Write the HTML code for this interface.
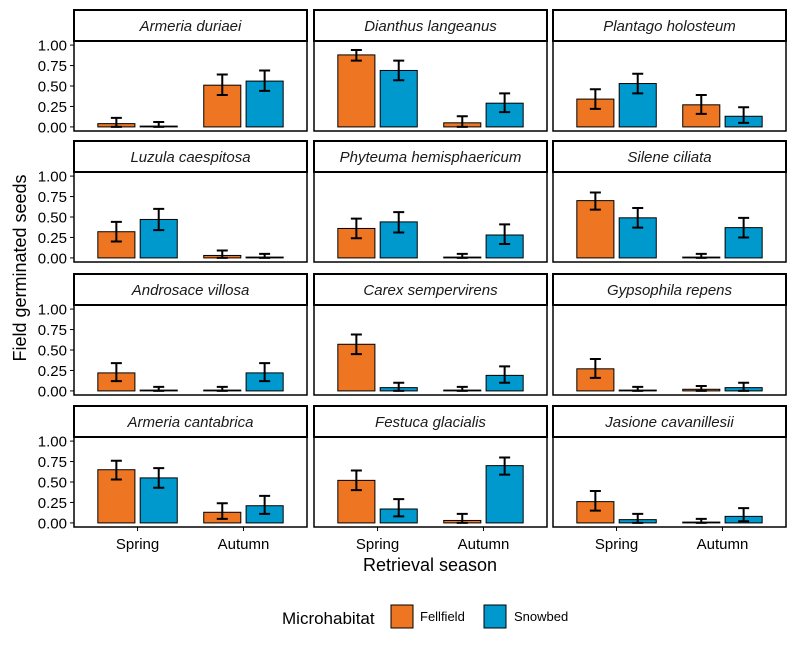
<!DOCTYPE html>
<html><head><meta charset="utf-8"><style>
body{margin:0;background:#fff}
svg{display:block;font-family:"Liberation Sans",Arial,sans-serif}
</style></head><body>
<svg id="chart" width="795" height="645" viewBox="0 0 795 645" xmlns="http://www.w3.org/2000/svg"></svg>
<script>
const species = ["Armeria duriaei","Dianthus langeanus","Plantago holosteum","Luzula caespitosa","Phyteuma hemisphaericum","Silene ciliata","Androsace villosa","Carex sempervirens","Gypsophila repens","Armeria cantabrica","Festuca glacialis","Jasione cavanillesii"];
const seasons = ["Spring","Autumn"];
const habitats = ["Fellfield","Snowbed"];
// values per species: [SpringF, SpringS, AutumnF, AutumnS]
const meanVals = [[0.04,0.01,0.51,0.56],[0.88,0.69,0.05,0.29],[0.34,0.53,0.27,0.13],[0.32,0.47,0.03,0.01],[0.36,0.44,0.01,0.28],[0.70,0.49,0.01,0.37],[0.22,0.01,0.01,0.22],[0.57,0.04,0.01,0.19],[0.27,0.01,0.02,0.04],[0.65,0.55,0.13,0.21],[0.52,0.17,0.03,0.70],[0.26,0.04,0.01,0.08]];
const lowVals = [[0,0,0.39,0.44],[0.81,0.57,0,0.18],[0.22,0.41,0.16,0.05],[0.20,0.34,0,0],[0.24,0.31,0,0.17],[0.59,0.37,0,0.25],[0.12,0,0,0.12],[0.45,0,0,0.10],[0.16,0,0,0],[0.53,0.43,0.05,0.11],[0.40,0.08,0,0.59],[0.15,0,0,0.02]];
const highVals = [[0.11,0.06,0.64,0.69],[0.94,0.81,0.13,0.41],[0.46,0.65,0.39,0.24],[0.44,0.60,0.09,0.05],[0.48,0.56,0.05,0.41],[0.80,0.61,0.05,0.49],[0.34,0.05,0.05,0.34],[0.69,0.10,0.05,0.30],[0.39,0.05,0.06,0.10],[0.76,0.67,0.24,0.33],[0.64,0.29,0.11,0.80],[0.39,0.11,0.05,0.18]];
const yTicks = [0,0.25,0.5,0.75,1.0];
const yTickLabels = ["0.00","0.25","0.50","0.75","1.00"];
const colors = ["#EE7623","#0099CE"];

const svg = document.getElementById('chart');
const NS = "http://www.w3.org/2000/svg";
function mk(tag, attrs, parent){const e=document.createElementNS(NS,tag);for(const k in attrs)e.setAttribute(k,attrs[k]);(parent||svg).appendChild(e);return e;}

const colX=[74,314,553], pw=233;
const stripY=[10,141,274,406], sh=31, ph=90;

species.forEach((sp,i)=>{
  const r=Math.floor(i/3), c=i%3;
  const x0=colX[c], sy=stripY[r], py=sy+sh;
  const g=mk('g',{});
  
  
  const yS=v=>py+ph-(v+0.05)/1.1*ph;
  const unit=pw/2.2;
  const xS=k=>x0+(0.6+k)*unit;
  const strip=mk('rect',{x:x0,y:sy,width:pw,height:sh,fill:'#fff',stroke:'#000','stroke-width':2},g);
  
  
  const st=mk('text',{x:x0+pw/2,y:sy+21,'text-anchor':'middle','font-size':15,'font-style':'italic',fill:'#1a1a1a'},g);
  st.textContent=sp;
  
  
  seasons.forEach((s,si)=>{
    habitats.forEach((h,hi)=>{
      const idx=si*2+hi;
      const cx=xS(si)+(hi===0?-0.2:0.2)*unit;
      const bw=0.35*unit, v=meanVals[i][idx];
      const bar=mk('rect',{x:cx-bw/2,y:yS(v),width:bw,height:yS(0)-yS(v),fill:colors[hi],stroke:'#000','stroke-width':1},g);
      
      
      const lo=yS(lowVals[i][idx]), hiY=yS(highVals[i][idx]), ew=5.5;
      const eb=mk('path',{d:`M${cx-ew},${hiY}H${cx+ew}M${cx},${hiY}V${lo}M${cx-ew},${lo}H${cx+ew}`,stroke:'#000','stroke-width':2,fill:'none'},g);
      
      
    });
  });
  const border=mk('rect',{x:x0,y:py,width:pw,height:ph,fill:'none',stroke:'#000','stroke-width':1.5},g);
  
  
  if(c===0){
    yTicks.forEach((t,ti)=>{
      mk('line',{x1:x0-4,x2:x0,y1:yS(t),y2:yS(t),stroke:'#000','stroke-width':1},g);
      const tl=mk('text',{x:x0-7,y:yS(t)+5.5,'text-anchor':'end','font-size':15,fill:'#000'},g);
      tl.textContent=yTickLabels[ti];
      
      
    });
  }
  if(r===3){
    seasons.forEach((s,si)=>{
      mk('line',{x1:xS(si),x2:xS(si),y1:py+ph,y2:py+ph+4,stroke:'#000','stroke-width':1},g);
      const xl=mk('text',{x:xS(si),y:py+ph+22,'text-anchor':'middle','font-size':15,fill:'#000'},g);
      xl.textContent=s;
      
      
    });
  }
});
</script>
<script>
(function(){
const svg=document.getElementById('chart');const NS="http://www.w3.org/2000/svg";
function t(x,y,s,size,name,extra){const e=document.createElementNS(NS,'text');e.setAttribute('x',x);e.setAttribute('y',y);e.setAttribute('font-size',size);e.setAttribute('fill','#000');if(extra)for(const k in extra)e.setAttribute(k,extra[k]);e.textContent=s;


svg.appendChild(e);return e;}
t(430,571,'Retrieval season',18,'x-axis-title',{'text-anchor':'middle'});
t(26,268,'Field germinated seeds',18,'y-axis-title',{'text-anchor':'middle',transform:'rotate(-90 26 268)'});
t(282,624,'Microhabitat',17,'legend-title');
function box(x,fill,name){const r=document.createElementNS(NS,'rect');r.setAttribute('x',x);r.setAttribute('y',605);r.setAttribute('width',22);r.setAttribute('height',23);r.setAttribute('fill',fill);r.setAttribute('stroke','#000');


svg.appendChild(r);}
box(391,'#EE7623','legend-key-fellfield');
t(420,621,'Fellfield',13,'legend-label-fellfield');
box(484,'#0099CE','legend-key-snowbed');
t(514,621,'Snowbed',13,'legend-label-snowbed');
})();
</script>
</body></html>
